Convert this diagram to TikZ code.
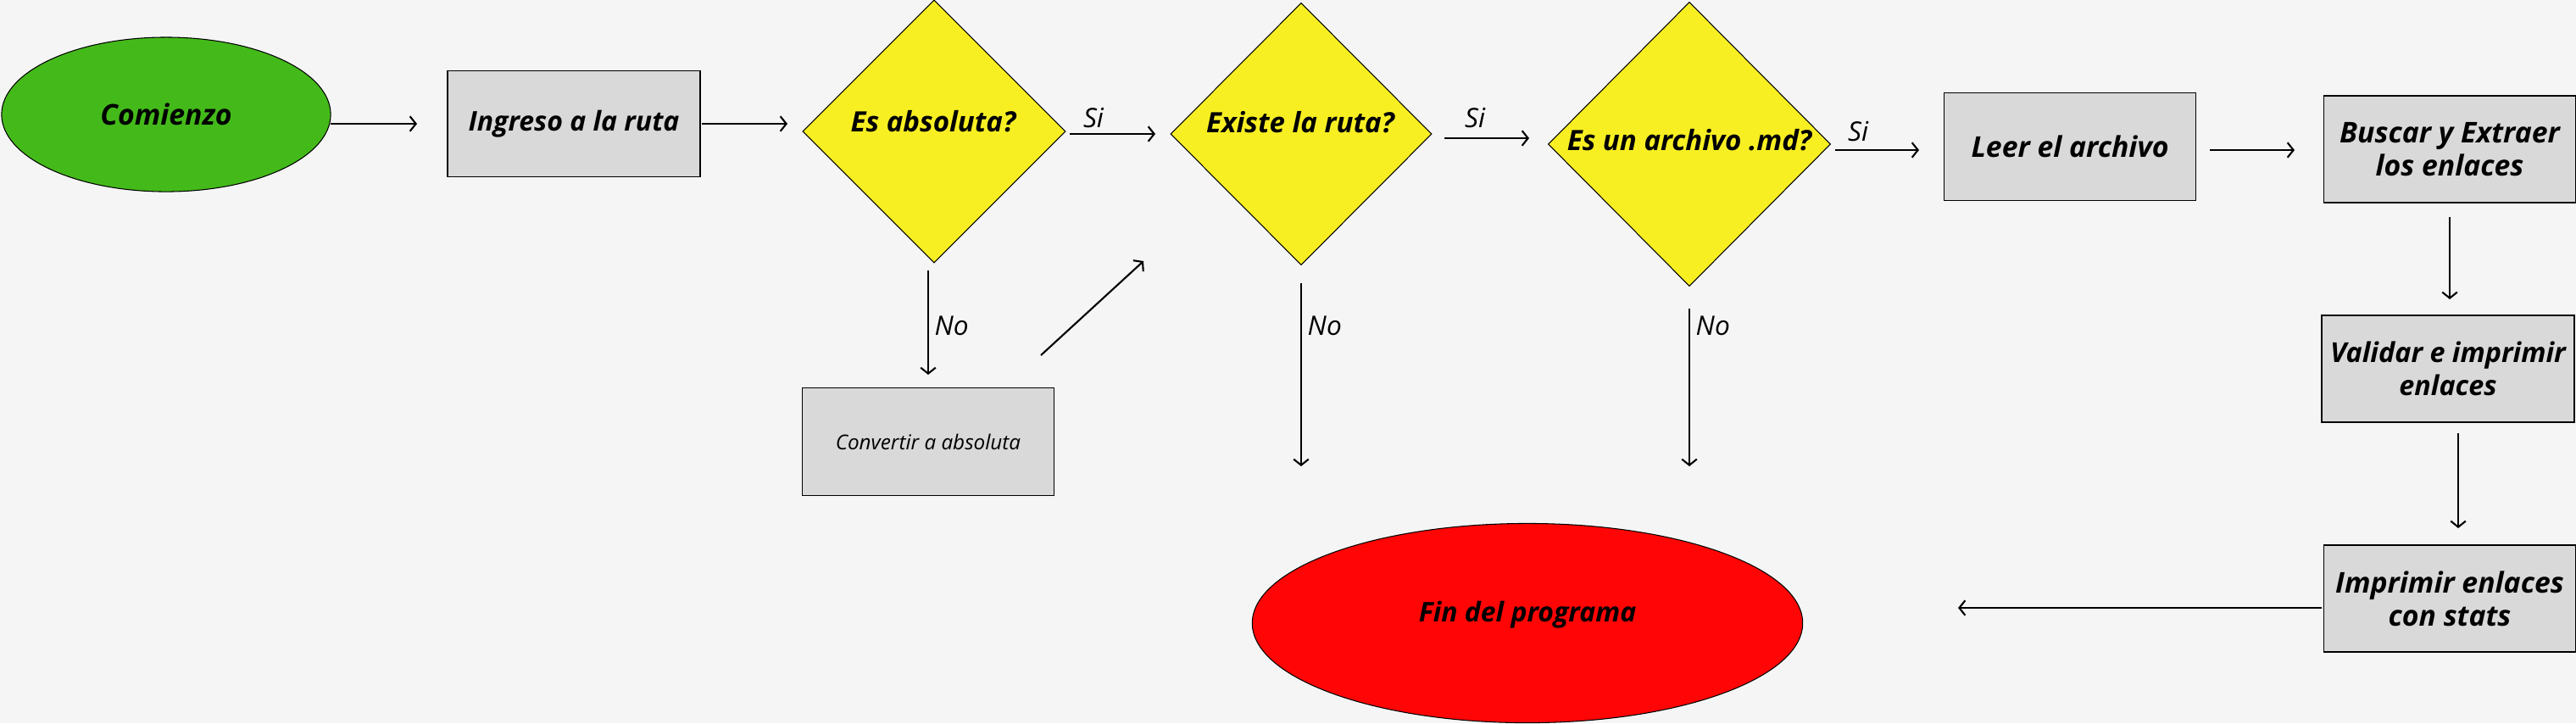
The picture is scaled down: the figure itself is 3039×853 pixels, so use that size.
\documentclass[tikz,border=0pt]{standalone}
\usepackage{fontspec}
\setmainfont{Open Sans}
\usetikzlibrary{shapes.geometric,arrows.meta}
\definecolor{bg}{HTML}{F5F5F5}
\definecolor{gstart}{HTML}{44BA1A}
\definecolor{ydec}{HTML}{F8EF23}
\definecolor{rend}{HTML}{FF0505}
\definecolor{gbox}{HTML}{D9D9D9}
\begin{document}
\begin{tikzpicture}[x=0.01cm,y=-0.01cm,
  procbox/.style={draw=black, line width=0.45pt, fill=gbox, inner sep=0pt, align=center,
     font=\bfseries\itshape\fontsize{9.6}{11.1}\selectfont},
  decbox/.style={diamond, draw=black, line width=0.3pt, fill=ydec, inner sep=0pt},
  dectext/.style={font=\bfseries\itshape\fontsize{9.4}{10}\selectfont, inner sep=0pt},
  termbox/.style={ellipse, draw=black, line width=0.3pt, inner sep=0pt,
     font=\bfseries\itshape\fontsize{9.6}{10}\selectfont},
  arr/.style={-{Straight Barb[length=2pt,width=5pt]}, line width=0.6pt},
  lbl/.style={font=\itshape\fontsize{9}{10}\selectfont, inner sep=0pt}]
\fill[bg] (0,0) rectangle (3039,853);
\useasboundingbox (0,0) rectangle (3039,853);

% nodes
\node[termbox, fill=gstart, minimum width=3.88cm, minimum height=1.82cm] (start) at (196,135) {Comienzo};
\node[procbox, minimum width=2.98cm, minimum height=1.25cm, font=\bfseries\itshape\fontsize{9.1}{10}\selectfont] (ingreso) at (677,146) {Ingreso a la ruta};
\node[decbox, minimum width=3.10cm, minimum height=3.10cm] (d1) at (1102,155) {};
\node[dectext] (d1t) at (1101,143) {Es absoluta?};
\node[decbox, minimum width=3.08cm, minimum height=3.09cm] (d2) at (1535,158) {};
\node[dectext] (d2t) at (1534,144) {Existe la ruta?};
\node[decbox, minimum width=3.33cm, minimum height=3.35cm] (d3) at (1993,170) {};
\node[dectext] (d3t) at (1993,165) {Es un archivo .md?};
\node[procbox, minimum width=2.97cm, minimum height=1.27cm, font=\itshape\fontsize{6.9}{8}\selectfont] (conv) at (1095,521) {Convertir a absoluta};
\node[procbox, minimum width=2.97cm, minimum height=1.27cm] (leer) at (2442,173) {Leer el archivo};
\node[procbox, minimum width=2.97cm, minimum height=1.26cm] (buscar) at (2890,176) {Buscar y Extraer\\los enlaces};
\node[procbox, minimum width=2.98cm, minimum height=1.26cm, font=\bfseries\itshape\fontsize{9.2}{11.1}\selectfont] (validar) at (2888,435) {Validar e imprimir\\enlaces};
\node[procbox, minimum width=2.97cm, minimum height=1.26cm] (imprimir) at (2890,706) {Imprimir enlaces\\con stats};
\node[termbox, fill=rend, minimum width=6.49cm, minimum height=2.35cm] (fin) at (1802,735) {};
\node[font=\bfseries\itshape\fontsize{9.1}{10}\selectfont, inner sep=0pt] (fint) at (1802,725) {Fin del programa};

% connector end points
\coordinate (a1s) at (390,146);  \coordinate (a1e) at (492,146);
\coordinate (a2s) at (828,146);  \coordinate (a2e) at (929,146);
\coordinate (a3s) at (1262,158); \coordinate (a3e) at (1363,158);
\coordinate (a4s) at (1704,163); \coordinate (a4e) at (1804,163);
\coordinate (a5s) at (2165,177); \coordinate (a5e) at (2264,177);
\coordinate (a6s) at (2607,177); \coordinate (a6e) at (2707,177);
\coordinate (a7s) at (2890,256); \coordinate (a7e) at (2890,353);
\coordinate (a8s) at (2900,511); \coordinate (a8e) at (2900,623);
\coordinate (a9s) at (2739,717); \coordinate (a9e) at (2310,717);
\coordinate (n1s) at (1095,319); \coordinate (n1e) at (1095,442);
\coordinate (dgs) at (1228,419); \coordinate (dge) at (1349,308);
\coordinate (n2s) at (1535,334); \coordinate (n2e) at (1535,550);
\coordinate (n3s) at (1993,364); \coordinate (n3e) at (1993,550);

\draw[arr] (a1s) -- (a1e);
\draw[arr] (a2s) -- (a2e);
\draw[arr] (a3s) -- (a3e);
\draw[arr] (a4s) -- (a4e);
\draw[arr] (a5s) -- (a5e);
\draw[arr] (a6s) -- (a6e);
\draw[arr] (a7s) -- (a7e);
\draw[arr] (a8s) -- (a8e);
\draw[arr] (a9s) -- (a9e);
\draw[arr] (n1s) -- (n1e);
\draw[arr] (dgs) -- (dge);
\draw[arr] (n2s) -- (n2e);
\draw[arr] (n3s) -- (n3e);

% labels
\node[lbl] (si1) at (1290,139) {Si};
\node[lbl] (si2) at (1740,139) {Si};
\node[lbl] (si3) at (2192,155) {Si};
\node[lbl, anchor=west] (no1) at (1102,384) {No};
\node[lbl, anchor=west] (no2) at (1542,384) {No};
\node[lbl, anchor=west] (no3) at (2000,384) {No};
\end{tikzpicture}
\end{document}
